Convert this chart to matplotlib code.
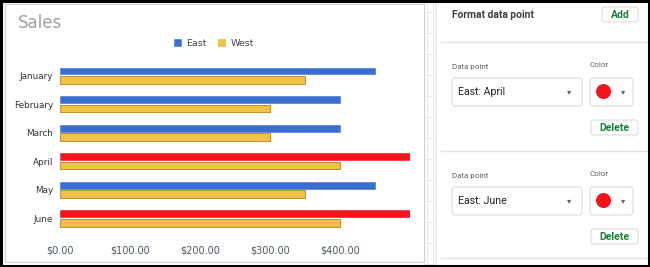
import matplotlib
matplotlib.use("Agg")
import matplotlib.pyplot as plt
from matplotlib.patches import Rectangle, FancyBboxPatch, Circle
from matplotlib.ticker import FuncFormatter

# ---------------------------------------------------------
# Data
# ---------------------------------------------------------
months = ["January", "February", "March", "April", "May", "June"]
east = [450, 400, 400, 500, 450, 500]
west = [350, 300, 300, 400, 350, 400]
highlighted = ["April", "June"]       # East data points recoloured
x_ticks = [0, 100, 200, 300, 400]

blue = "#3b6fcf"
gold = "#f2c14c"
gold_edge = "#b8922c"
red = "#f7131c"
green = "#188038"

W, H = 650, 267
fig = plt.figure(figsize=(W / 100, H / 100), dpi=100)

# ---------------------------------------------------------
# Background layer in pixel coordinates (frame + side panel)
# ---------------------------------------------------------
bg = fig.add_axes([0, 0, 1, 1], zorder=0)
bg.set_xlim(0, W)
bg.set_ylim(H, 0)
bg.axis("off")

# sheet grid behind the chart
bg.vlines([426.5, 432.5], 0, H, colors="#e8e8e8", lw=0.7)
bg.hlines(list(range(12, H, 21)), 424, 433, colors="#e8e8e8", lw=0.7)
bg.vlines([436], 0, H, colors="#ededed", lw=1.5)

# chart frame
bg.add_patch(Rectangle((4.5, 4), 419, 258, facecolor="white",
                       edgecolor="#cfcfcf", lw=0.8))
bg.text(18, 23, "Sales", fontsize=12, color="#9aa0a6", va="center",
        ha="left", family="DejaVu Sans")

# side panel
bg.add_patch(Rectangle((437, 0), W - 437, H, facecolor="white",
                       edgecolor="none"))
bg.hlines([42, 151, 258], 440, W, colors="#e3e3e3", lw=1.0)

pf = "Roboto"
bg.text(452, 14.5, "Format data point", fontsize=7.4, fontweight="bold",
        color="#3c4043", va="center", family=pf)


def button(x, y, w, h, label):
    bg.add_patch(FancyBboxPatch((x, y), w, h,
                                boxstyle="round,pad=0,rounding_size=2.5",
                                facecolor="white", edgecolor="#dadce0", lw=0.8))
    bg.text(x + w / 2, y + h / 2 + 0.5, label, fontsize=7.5,
            fontweight="bold", color=green, ha="center", va="center",
            family=pf)


button(602, 7, 36, 15, "Add")

for top, name in [(65, "East: April"), (174, "East: June")]:
    bg.text(452, top + 2, "Data point", fontsize=5.8, color="#5f6368",
            va="center", family=pf)
    bg.text(589, top, "Color", fontsize=5.8, color="#5f6368",
            va="center", family=pf)
    box_y = top + 13
    bg.add_patch(FancyBboxPatch((452, box_y), 130, 28,
                                boxstyle="round,pad=0,rounding_size=3",
                                facecolor="white", edgecolor="#dcdcdc",
                                lw=0.8))
    bg.text(458, box_y + 14, name, fontsize=7.6, color="#202124",
            va="center", family=pf)
    bg.text(569, box_y + 14, "▾", fontsize=6, color="#5f6368",
            va="center", ha="center", family="DejaVu Sans")
    bg.add_patch(FancyBboxPatch((590, box_y), 43, 28,
                                boxstyle="round,pad=0,rounding_size=3",
                                facecolor="white", edgecolor="#dcdcdc",
                                lw=0.8))
    bg.add_patch(Circle((603.5, box_y + 13.5), 7.5, facecolor=red,
                        edgecolor="none"))
    bg.text(623, box_y + 14, "▾", fontsize=6, color="#5f6368",
            va="center", ha="center", family="DejaVu Sans")
    button(591, box_y + 42, 47, 15, "Delete")

# outer black border (on top of the grid lines)
bg.add_patch(Rectangle((1, 1), W - 2, H - 2, facecolor="none",
                       edgecolor="black", lw=2.2, zorder=5))

# ---------------------------------------------------------
# Bar chart
# ---------------------------------------------------------
ax_left, ax_right = 60, 410
ax_top, ax_bot = 61.3, 232.7
ax = fig.add_axes([ax_left / W, 1 - ax_bot / H,
                   (ax_right - ax_left) / W, (ax_bot - ax_top) / H],
                  zorder=2)
ax.patch.set_alpha(0)

pos = list(range(len(months)))
east_colors = [red if m in highlighted else blue for m in months]
ax.barh([p - 0.16 for p in pos], east, height=0.24, color=east_colors,
        edgecolor=east_colors, lw=0.4, label="East")
ax.barh([p + 0.15 for p in pos], west, height=0.27, color=gold,
        edgecolor=gold_edge, lw=0.7, label="West")

ax.set_xlim(0, 500)
ax.set_ylim(len(months) - 0.5, -0.5)
ax.set_yticks(pos)
ax.set_yticklabels(months)
ax.set_xticks(x_ticks)
ax.xaxis.set_major_formatter(FuncFormatter(lambda v, _: f"${v:.2f}"))
ax.tick_params(axis="both", length=0)
ax.tick_params(axis="x", pad=9, labelsize=7, labelcolor="#4d5666")
ax.tick_params(axis="y", pad=5, labelsize=6.4, labelcolor="#333333")
for s in ax.spines.values():
    s.set_visible(False)

leg = fig.legend(loc="center", bbox_to_anchor=(214 / W, 1 - 43 / H),
                 ncol=2, frameon=False, fontsize=6.8, handlelength=0.75,
                 handleheight=0.75, handletextpad=0.6, columnspacing=1.2,
                 labelcolor="#444444")
leg.legend_handles[0].set_facecolor(blue)
leg.legend_handles[0].set_edgecolor(blue)
leg.legend_handles[1].set_edgecolor(gold)

fig.savefig("out.png", dpi=100)
